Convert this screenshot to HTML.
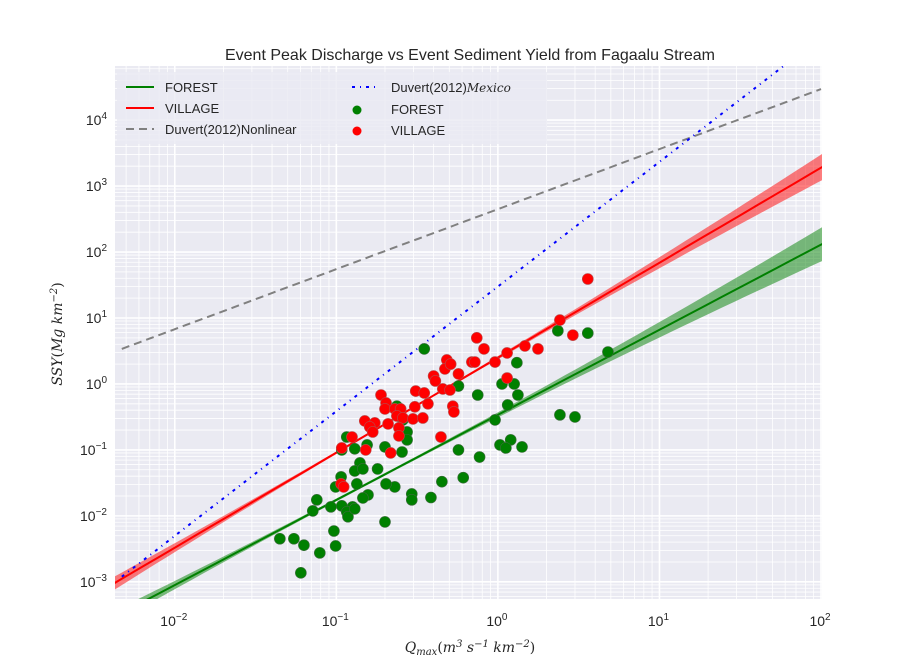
<!DOCTYPE html>
<html><head><meta charset="utf-8"><style>
html,body{margin:0;padding:0;background:#fff;}
svg{display:block;font-family:"Liberation Sans","DejaVu Sans",sans-serif;}
</style></head><body>
<svg id="chart" width="916" height="666" viewBox="0 0 916 666" xmlns="http://www.w3.org/2000/svg">
<rect x="0" y="0" width="916" height="666" fill="#ffffff"/>
<text x="470" y="60" text-anchor="middle" font-size="16" fill="#262626">Event Peak Discharge vs Event Sediment Yield from Fagaalu Stream</text>
<g id="plot"></g>
<text x="470" y="652" text-anchor="middle" font-size="14" fill="#262626" font-family="DejaVu Serif, Liberation Serif, serif" font-style="italic">Q<tspan font-size="10" dy="3">max</tspan><tspan dy="-3" font-style="normal">(</tspan>m<tspan font-size="10" dy="-5">3</tspan><tspan dy="5"> s</tspan><tspan font-size="10" dy="-5">−1</tspan><tspan dy="5"> km</tspan><tspan font-size="10" dy="-5">−2</tspan><tspan dy="5" font-style="normal">)</tspan></text>
<text transform="translate(62,334) rotate(-90)" text-anchor="middle" font-size="14" fill="#262626" font-family="DejaVu Serif, Liberation Serif, serif" font-style="italic">SSY<tspan font-style="normal">(</tspan>Mg km<tspan font-size="10" dy="-5">−2</tspan><tspan dy="5" font-style="normal">)</tspan></text>
</svg>
<script>
// ---- data ----
const forestQ = [0.35,1.31,1.06,1.26,1.33,0.75,0.57,1.15,0.96,0.237,0.258,0.274,0.274,0.116,0.13,0.108,0.2,0.255,0.155,0.57,0.77,1.03,1.2,1.41,1.12,2.35,3.6,4.8,2.42,3.0,0.61,0.45,0.385,0.293,0.293,0.23,0.203,0.18,0.14,0.13,0.146,0.107,0.099,0.134,0.157,0.146,0.0757,0.0715,0.0925,0.108,0.126,0.116,0.118,0.13,0.2,0.0447,0.0546,0.063,0.079,0.0966,0.099,0.0603];
const forestSSY = [3.4,2.1,1.0,1.0,0.68,0.68,0.93,0.48,0.285,0.46,0.285,0.187,0.142,0.157,0.104,0.1,0.111,0.093,0.119,0.1,0.078,0.119,0.142,0.111,0.107,6.4,5.9,3.05,0.34,0.316,0.038,0.033,0.019,0.0215,0.0175,0.0275,0.0305,0.0515,0.0635,0.048,0.0515,0.039,0.0275,0.0305,0.0208,0.0187,0.0175,0.0119,0.0137,0.0142,0.0137,0.0115,0.0097,0.0128,0.0081,0.0045,0.0045,0.0036,0.00275,0.0059,0.0035,0.00137];
const villageQ = [0.74,0.82,0.483,0.47,0.51,0.69,0.72,0.96,1.14,0.4,0.41,0.57,1.14,0.31,0.35,0.456,0.505,0.189,0.203,0.2,0.23,0.25,0.306,0.369,0.526,0.534,0.237,0.258,0.298,0.343,0.15,0.173,0.209,0.161,0.168,0.244,0.244,0.125,0.444,0.108,0.152,0.217,3.6,2.42,2.91,1.47,1.77,0.107,0.111];
const villageSSY = [5.0,3.4,2.31,1.69,2.0,2.15,2.15,2.15,2.95,1.32,1.11,1.42,1.23,0.78,0.73,0.84,0.81,0.68,0.515,0.418,0.418,0.418,0.45,0.5,0.46,0.377,0.327,0.305,0.295,0.305,0.275,0.257,0.248,0.223,0.187,0.216,0.163,0.157,0.157,0.107,0.1,0.09,39,9.3,5.5,3.77,3.4,0.0305,0.0275];
// power-law fits: SSY = a * Q^b
const forestFit = [0.34, 1.29];
const villageFit = [2.5, 1.44];
const duvertNonlinear = [447, 0.91];
const duvertMexico = [30, 1.89];
const xTickExp = [-2,-1,0,1,2];
const yTickExp = [-3,-2,-1,0,1,2,3,4];

// ---- axes ----
const X0=115,X1=822,Y0=66,Y1=599;
const LX0=-2.37,LX1=2.006,LY0=-3.26,LY1=4.82;
const xs=v=>X0+(Math.log10(v)-LX0)/(LX1-LX0)*(X1-X0);
const ys=v=>Y1-(Math.log10(v)-LY0)/(LY1-LY0)*(Y1-Y0);
const NS='http://www.w3.org/2000/svg';
const plot=document.getElementById('plot');
function mk(tag,attrs,parent){const e=document.createElementNS(NS,tag);for(const k in attrs)e.setAttribute(k,attrs[k]);(parent||plot).appendChild(e);return e;}

const bg=mk('rect',{x:X0,y:Y0,width:X1-X0,height:Y1-Y0,fill:'#eaeaf2'});


const grid=mk('g',{});


for(let e=-3;e<=2;e++)for(let m=1;m<10;m++){const v=m*Math.pow(10,e);const x=xs(v);if(x<X0||x>X1)continue;
 mk('line',{x1:x,x2:x,y1:Y0,y2:Y1,stroke:'#fff','stroke-width':m==1?1.6:0.8},grid);}
for(let e=-4;e<=4;e++)for(let m=1;m<10;m++){const v=m*Math.pow(10,e);const y=ys(v);if(y<Y0||y>Y1)continue;
 mk('line',{x1:X0,x2:X1,y1:y,y2:y,stroke:'#fff','stroke-width':m==1?1.6:0.8},grid);}

// tick labels
xTickExp.forEach(e=>{const t=mk('text',{x:xs(Math.pow(10,e))-1,y:Y1+27,'text-anchor':'middle','font-size':14,fill:'#262626'});
 
 
 t.innerHTML='10<tspan font-size="10" dy="-6">'+(e<0?'−'+(-e):e)+'</tspan>';});
yTickExp.forEach(e=>{const t=mk('text',{x:X0-8,y:ys(Math.pow(10,e))+5,'text-anchor':'end','font-size':14,fill:'#262626'});
 
 
 t.innerHTML='10<tspan font-size="10" dy="-6">'+(e<0?'−'+(-e):e)+'</tspan>';});

const clip=mk('clipPath',{id:'pc'});mk('rect',{x:X0,y:Y0,width:X1-X0,height:Y1-Y0},clip);
const g=mk('g',{'clip-path':'url(#pc)'});

function linePath(fit,qa,qb){let d='';for(let i=0;i<=40;i++){const lq=Math.log10(qa)+(Math.log10(qb)-Math.log10(qa))*i/40;const q=Math.pow(10,lq);d+=(i?'L':'M')+xs(q).toFixed(1)+','+ys(fit[0]*Math.pow(q,fit[1])).toFixed(1);}return d;}
function band(fit,c0,hw0,k){let up=[],lo=[];for(let i=0;i<=60;i++){const lq=LX0-0.05+(LX1-LX0+0.1)*i/60;const q=Math.pow(10,lq);const hw=hw0+k*(lq-c0)*(lq-c0);const ly=Math.log10(fit[0])+fit[1]*lq;
 up.push(xs(q).toFixed(1)+','+ys(Math.pow(10,ly+hw)).toFixed(1));lo.unshift(xs(q).toFixed(1)+','+ys(Math.pow(10,ly-hw)).toFixed(1));}
 return 'M'+up.join('L')+'L'+lo.join('L')+'Z';}
const qMin=Math.pow(10,LX0-0.05),qMax=Math.pow(10,LX1+0.05);

const b1=mk('path',{d:band(forestFit,-0.8,0.02,0.03),fill:'#008000','fill-opacity':0.5},g);


const b2=mk('path',{d:band(villageFit,-0.6,0.015,0.027),fill:'#ff0000','fill-opacity':0.5},g);


const l1=mk('path',{d:linePath(forestFit,qMin,qMax),fill:'none',stroke:'#008000','stroke-width':2},g);


const l2=mk('path',{d:linePath(villageFit,qMin,qMax),fill:'none',stroke:'#ff0000','stroke-width':2},g);


const l3=mk('path',{d:linePath(duvertNonlinear,0.0047,100),fill:'none',stroke:'#808080','stroke-width':2,'stroke-dasharray':'8,5'},g);


const l4=mk('path',{d:linePath(duvertMexico,0.0047,100),fill:'none',stroke:'#0000ff','stroke-width':2,'stroke-dasharray':'3,5,1,5'},g);



forestQ.forEach((q,i)=>{const c=mk('circle',{cx:xs(q),cy:ys(forestSSY[i]),r:5.5,fill:'#008000',stroke:'#3a6b3a','stroke-width':0.6},g);
 
 });
villageQ.forEach((q,i)=>{const c=mk('circle',{cx:xs(q),cy:ys(villageSSY[i]),r:5.5,fill:'#ff0000',stroke:'#b84a4a','stroke-width':0.6},g);
 
 });

// legend
const lg=mk('g',{});


mk('rect',{x:117,y:72,width:430,height:72,fill:'#eaeaf2','fill-opacity':0.8},lg);
const items=[
 {x:126,y:87,type:'line',c:'#008000',dash:'',t:'FOREST',n:'legend-forest-line'},
 {x:126,y:108,type:'line',c:'#ff0000',dash:'',t:'VILLAGE',n:'legend-village-line'},
 {x:126,y:129,type:'line',c:'#808080',dash:'8,5',t:'Duvert(2012)Nonlinear',n:'legend-duvert-nonlinear'},
 {x:352,y:87,type:'line',c:'#0000ff',dash:'3,5,1,5',t:'Duvert(2012)',n:'legend-duvert-mexico',it:'Mexico'},
 {x:352,y:109,type:'dot',c:'#008000',t:'FOREST',n:'legend-forest-points'},
 {x:352,y:130,type:'dot',c:'#ff0000',t:'VILLAGE',n:'legend-village-points'}];
items.forEach(it=>{const gg=mk('g',{},lg);
 
 
 if(it.type=='line')mk('line',{x1:it.x,x2:it.x+28,y1:it.y,y2:it.y,stroke:it.c,'stroke-width':2,'stroke-dasharray':it.dash},gg);
 else mk('circle',{cx:it.x+5,cy:it.y+1,r:4.5,fill:it.c},gg);
 const tx=mk('text',{x:it.x+39,y:it.y+5,'font-size':13,fill:'#262626'},gg);
 tx.textContent=it.t;
 if(it.it){const ts=document.createElementNS(NS,'tspan');ts.setAttribute('font-family','DejaVu Serif, serif');ts.setAttribute('font-style','italic');ts.setAttribute('font-size','12');ts.textContent=it.it;tx.appendChild(ts);}
});
</script>
</body></html>
